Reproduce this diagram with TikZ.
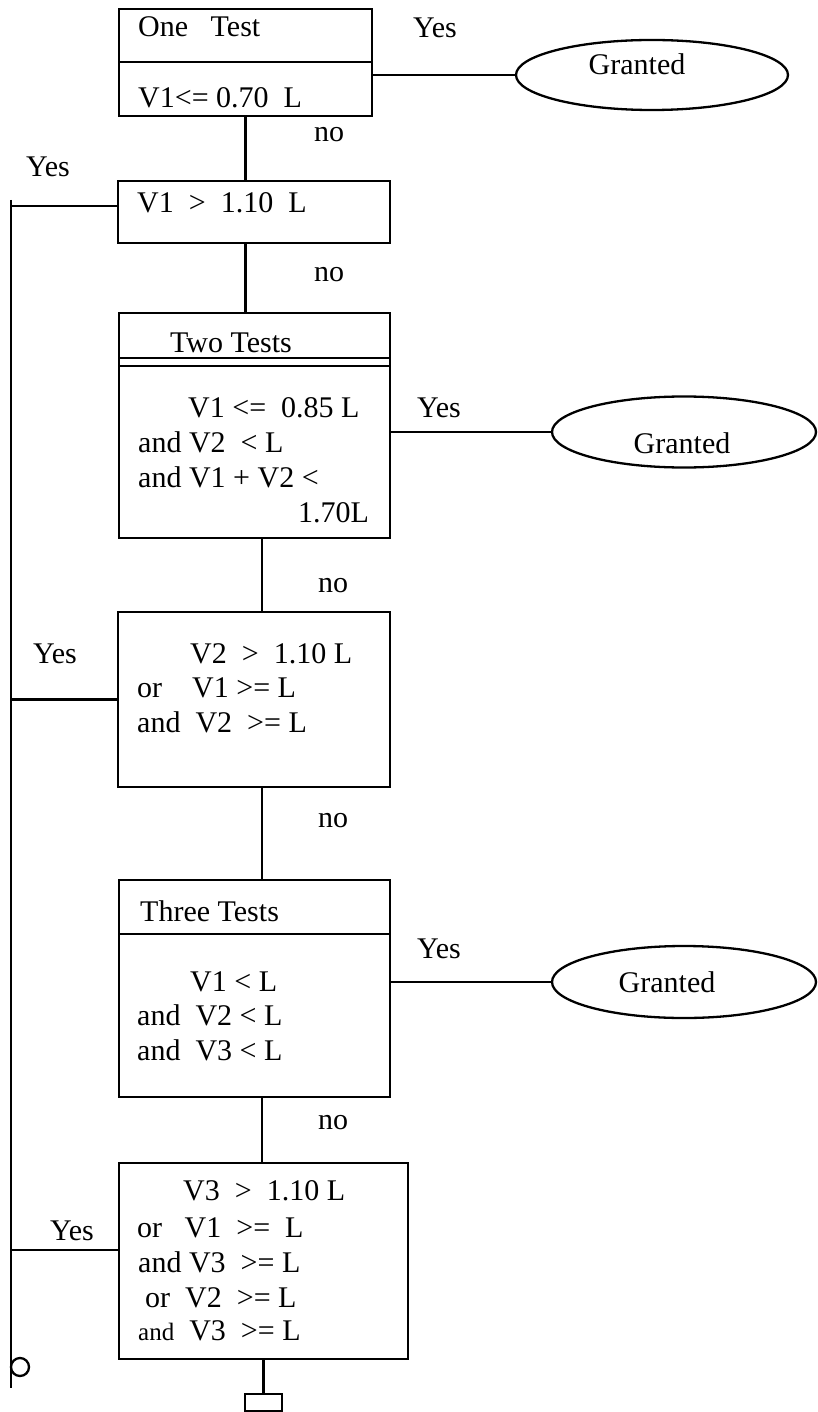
\documentclass[tikz,border=0pt]{standalone}
\usepackage{fontspec}
\setmainfont{Liberation Serif}
\usetikzlibrary{shapes.geometric}
\tikzset{
  wire/.style={line width=2.3pt},
  testbox/.style={draw, line width=2.5pt, rectangle, anchor=north west, inner sep=0pt, outer sep=0pt},
  grant/.style={draw, line width=2.3pt, ellipse, inner sep=0pt, outer sep=0pt},
  txt/.style={anchor=base west, inner sep=0pt, font=\fontsize{30}{35}\selectfont},
  ctxt/.style={anchor=center, inner sep=0pt, font=\fontsize{30}{35}\selectfont},
}
\begin{document}
\begin{tikzpicture}[x=1pt,y=-1pt]
\useasboundingbox (0,0) rectangle (817,1412);

% test boxes
\node[testbox, minimum width=253pt, minimum height=107pt] (b1) at (119,9) {};
\node[testbox, minimum width=272pt, minimum height=62pt]  (b2) at (118,181) {};
\node[testbox, minimum width=271pt, minimum height=225pt] (b3) at (119,313) {};
\node[testbox, minimum width=272pt, minimum height=175pt] (b4) at (118,612) {};
\node[testbox, minimum width=271pt, minimum height=217pt] (b5) at (119,880) {};
\node[testbox, minimum width=289pt, minimum height=196pt] (b6) at (119,1163) {};

% header rules
\draw[line width=2.5pt] (b1.west |- 0,62) -- (b1.east |- 0,62);
\draw[line width=2.3pt] (b3.west |- 0,358) -- (b3.east |- 0,358);
\draw[line width=2.3pt] (b3.west |- 0,366) -- (b3.east |- 0,366);
\draw[line width=2.5pt] (b5.west |- 0,934) -- (b5.east |- 0,934);

% granted terminals
\node[grant, minimum width=272pt, minimum height=70pt] (g1) at (652,75) {};
\node[grant, minimum width=264pt, minimum height=71pt] (g2) at (684,432) {};
\node[grant, minimum width=264pt, minimum height=72pt] (g3) at (684,982) {};
\node[ctxt] (tg1) at (637,64) {Granted};
\node[ctxt] (tg2) at (682,443) {Granted};
\node[ctxt] (tg3) at (667,982) {Granted};

% box texts
\node[txt] (t1a) at (138,37) {One~~~Test};
\node[txt] (t1b) at (138,108) {V1<= 0.70~~L};
\node[txt] (t2)  at (137,213) {V1~~>~~1.10~~L};
\node[txt] (t3a) at (170,352) {Two Tests};
\node[txt] (t3b) at (188,417) {V1 <=~~0.85 L};
\node[txt] (t3c) at (138,452) {and V2~~< L};
\node[txt] (t3d) at (138,487) {and V1 + V2 <};
\node[txt] (t3e) at (298,522) {1.70L};
\node[txt] (t4a) at (190,663) {V2~~>~~1.10 L};
\node[txt] (t4b) at (137,697) {or~~~~V1 >= L};
\node[txt] (t4c) at (137,732) {and~~V2~~>= L};
\node[txt] (t5a) at (140,921) {Three Tests};
\node[txt] (t5b) at (190,991) {V1 < L};
\node[txt] (t5c) at (137,1025) {and~~V2 < L};
\node[txt] (t5d) at (137,1060) {and~~V3 < L};
\node[txt] (t6a) at (183,1200) {V3~~>~~1.10 L};
\node[txt] (t6b) at (137,1237) {or~~~V1~~>=~~L};
\node[txt] (t6c) at (138,1272) {and V3~~>= L};
\node[txt] (t6d) at (145,1307) {or~~V2~~>= L};
\node[txt] (t6e) at (138,1340) {{\fontsize{25}{29}\selectfont and}~~V3~~>= L};

% branch labels
\node[txt] (y1) at (413,38) {Yes};
\node[txt] (n1) at (314,142) {no};
\node[txt] (y2) at (26,177) {Yes};
\node[txt] (n2) at (314,282) {no};
\node[txt] (y3) at (417,417) {Yes};
\node[txt] (n3) at (318,592) {no};
\node[txt] (y4) at (33,663) {Yes};
\node[txt] (n4) at (318,827) {no};
\node[txt] (y5) at (417,958) {Yes};
\node[txt] (n5) at (318,1129) {no};
\node[txt] (y6) at (50,1240) {Yes};

% left return bus and its ends
\coordinate (bustop) at (11,200);
\coordinate (busbot) at (11,1388);
\coordinate (j2) at (11,206);
\coordinate (j6) at (11,1250);
\coordinate (spine) at (262,0);
\node[draw, circle, line width=2.3pt, minimum size=18pt, inner sep=0pt] (endc) at (20,1367) {};
\node[draw, rectangle, line width=2.3pt, minimum width=37pt, minimum height=17pt, inner sep=0pt, outer sep=0pt] (stop) at (263.5,1402.5) {};

% connectors
\draw[wire] (bustop) -- (busbot);
\draw[wire] (b1.east |- g1.west) -- (g1.west);
\draw[wire] (b1.south) -- (b1.south |- b2.north);
\draw[wire] (b1.south |- b2.south) -- (b1.south |- b3.north);
\draw[wire] (spine |- b3.south) -- (spine |- b4.north);
\draw[wire] (spine |- b4.south) -- (spine |- b5.north);
\draw[wire] (spine |- b5.south) -- (spine |- b6.north);
\draw[wire] (stop.north -| b6.south) -- (b6.south);
\draw[wire] (b3.east |- g2.west) -- (g2.west);
\draw[wire] (b5.east |- g3.west) -- (g3.west);
\draw[wire] (j2) -- (j2 -| b2.west);
\draw[wire] (bustop |- b4.west) -- (b4.west);
\draw[wire] (j6) -- (j6 -| b6.west);
\end{tikzpicture}
\end{document}
